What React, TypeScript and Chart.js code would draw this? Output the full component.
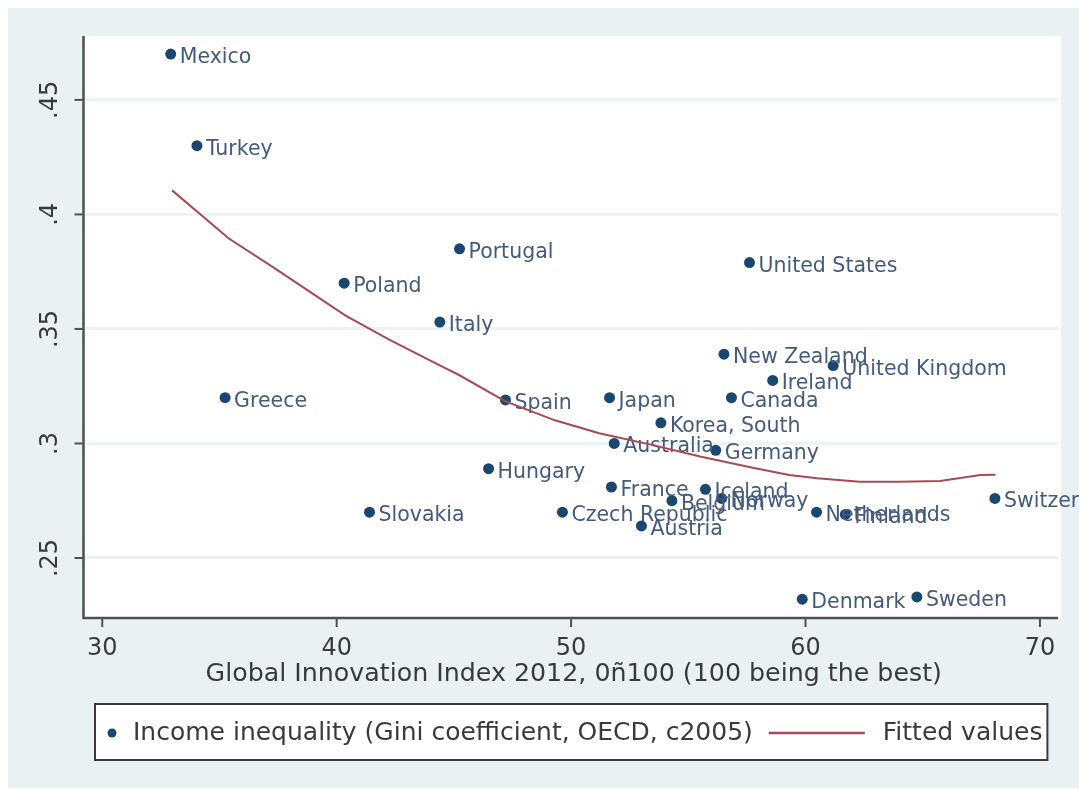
import React, { useEffect, useRef } from "react";
import { Chart, registerables } from "chart.js";

Chart.register(...registerables);

// ---------- data ----------
const countries = [
  "Mexico", "Turkey", "Greece", "Poland", "Portugal", "Italy", "Slovakia", "Hungary",
  "Spain", "Czech Republic", "Japan", "France", "Australia", "Korea, South", "Austria",
  "Belgium", "Iceland", "Norway", "Germany", "New Zealand", "Canada", "United States",
  "Ireland", "United Kingdom", "Netherlands", "Finland", "Denmark", "Sweden", "Switzerland",
];
const innovationIndex = [
  32.92, 34.04, 35.24, 40.32, 45.24, 44.4, 41.4, 46.48,
  47.2, 49.63, 51.64, 51.72, 51.84, 53.83, 53.0,
  54.3, 55.73, 56.42, 56.17, 56.52, 56.84, 57.61,
  58.6, 61.18, 60.47, 61.7, 59.86, 64.75, 68.08,
];
const giniCoefficient = [
  0.47, 0.43, 0.32, 0.37, 0.385, 0.353, 0.27, 0.289,
  0.319, 0.27, 0.32, 0.281, 0.3, 0.309, 0.264,
  0.275, 0.28, 0.276, 0.297, 0.339, 0.32, 0.379,
  0.3275, 0.334, 0.27, 0.269, 0.232, 0.233, 0.276,
];
const fittedX = [32.98, 35.4, 37.25, 40.38, 42.24, 44.44, 45.2, 47.18, 49.31, 51.2, 53.4, 55.5, 57.7, 59.3, 60.5, 62.3, 64.0, 65.74, 67.45, 68.1];
const fittedY = [0.4105, 0.3895, 0.3772, 0.3558, 0.3453, 0.3339, 0.33, 0.3185, 0.3101, 0.3045, 0.2995, 0.2943, 0.2895, 0.2862, 0.2848, 0.2833, 0.2833, 0.2836, 0.2862, 0.2863];

const xTicks = [30, 40, 50, 60, 70];
const xTickLabels = ["30", "40", "50", "60", "70"];
const yTicks = [0.25, 0.3, 0.35, 0.4, 0.45];
const yTickLabels = [".25", ".3", ".35", ".4", ".45"];
const xTitle = "Global Innovation Index 2012, 0ñ100 (100 being the best)";
const legendLabels = ["Income inequality (Gini coefficient, OECD, c2005)", "Fitted values"];

// ---------- style ----------
const W = 1079;
const H = 780;
const PANEL_W = 1072;
const PANEL = "#e9f1f3";
const GRID = "#edf2f3";
const AXIS = "#505050";
const MARKER = "#1a476f";
const MLABEL = "#455b7b";
const FIT = "#a94a53";
const TEXT = "#3a3a3a";
const FONT = "'DejaVu Sans', sans-serif";

const stataPlugin = {
  id: "stataStyle",
  beforeDraw(chart: any) {
    const { ctx, chartArea: a } = chart;
    ctx.save();
    ctx.fillStyle = PANEL;
    ctx.fillRect(0, 0, PANEL_W, H);
    ctx.fillStyle = "#ffffff";
    ctx.fillRect(a.left, a.top, a.right - a.left + 3, a.bottom - a.top);
    ctx.restore();
  },
  afterDatasetDraw(chart: any, args: any) {
    if (args.index !== 0) return;
    const { ctx } = chart;
    const meta = chart.getDatasetMeta(0);
    ctx.save();
    ctx.font = `20.5px ${FONT}`;
    ctx.fillStyle = MLABEL;
    ctx.textAlign = "left";
    ctx.textBaseline = "alphabetic";
    meta.data.forEach((el: any, i: number) => {
      ctx.fillText(countries[i], el.x + 9, el.y + 9);
    });
    ctx.restore();
  },
  afterDraw(chart: any) {
    const { ctx, chartArea: a, scales } = chart;
    const xs = scales.x;
    const ys = scales.y;
    ctx.save();
    // axis lines
    ctx.strokeStyle = AXIS;
    ctx.lineWidth = 2.5;
    ctx.beginPath();
    ctx.moveTo(a.left, a.top);
    ctx.lineTo(a.left, a.bottom);
    ctx.lineTo(a.right, a.bottom);
    ctx.stroke();
    // ticks
    ctx.lineWidth = 2;
    xTicks.forEach((v) => {
      const px = xs.getPixelForValue(v);
      ctx.beginPath();
      ctx.moveTo(px, a.bottom);
      ctx.lineTo(px, a.bottom + 9);
      ctx.stroke();
    });
    yTicks.forEach((v) => {
      const py = ys.getPixelForValue(v);
      ctx.beginPath();
      ctx.moveTo(a.left, py);
      ctx.lineTo(a.left - 9, py);
      ctx.stroke();
    });
    // tick labels
    ctx.fillStyle = TEXT;
    ctx.font = `24px ${FONT}`;
    ctx.textAlign = "center";
    ctx.textBaseline = "middle";
    xTicks.forEach((v, i) => {
      ctx.fillText(xTickLabels[i], xs.getPixelForValue(v), a.bottom + 31);
    });
    yTicks.forEach((v, i) => {
      const py = ys.getPixelForValue(v);
      ctx.save();
      ctx.translate(a.left - 33, py);
      ctx.rotate(-Math.PI / 2);
      ctx.fillText(yTickLabels[i], 0, 0);
      ctx.restore();
    });
    // axis title
    ctx.font = `25.3px ${FONT}`;
    ctx.fillText(xTitle, (a.left + a.right) / 2 + 3, a.bottom + 56);

    // legend
    ctx.font = `25px ${FONT}`;
    const boxL = 87;
    const boxT = 696;
    const boxB = 752;
    const cy = (boxT + boxB) / 2 + 1;
    const t1x = 125;
    const w1 = ctx.measureText(legendLabels[0]).width;
    const lineL = t1x + w1 + 16;
    const lineR = lineL + 96;
    const t2x = lineR + 18;
    const w2 = ctx.measureText(legendLabels[1]).width;
    const boxR = Math.max(t2x + w2 + 5, 1038);
    ctx.fillStyle = "#ffffff";
    ctx.fillRect(boxL, boxT, boxR - boxL, boxB - boxT);
    ctx.strokeStyle = "#3a3a3a";
    ctx.lineWidth = 2;
    ctx.strokeRect(boxL, boxT, boxR - boxL, boxB - boxT);
    ctx.fillStyle = MARKER;
    ctx.beginPath();
    ctx.arc(104, cy, 4.5, 0, Math.PI * 2);
    ctx.fill();
    ctx.fillStyle = TEXT;
    ctx.textAlign = "left";
    ctx.textBaseline = "middle";
    ctx.fillText(legendLabels[0], t1x, cy);
    ctx.fillText(legendLabels[1], t2x, cy);
    ctx.strokeStyle = FIT;
    ctx.lineWidth = 2.5;
    ctx.beginPath();
    ctx.moveTo(lineL, cy);
    ctx.lineTo(lineR, cy);
    ctx.stroke();
    ctx.restore();
  },
};

export default function App() {
  const ref = useRef<HTMLCanvasElement>(null);
  useEffect(() => {
    if (!ref.current) return;
    Chart.defaults.font.family = FONT;
    const chart = new Chart(ref.current, {
      type: "scatter",
      data: {
        datasets: [
          {
            label: legendLabels[0],
            data: countries.map((_, i) => ({ x: innovationIndex[i], y: giniCoefficient[i] })),
            pointRadius: 5.5,
            pointBackgroundColor: MARKER,
            pointBorderWidth: 0,
            showLine: false,
            order: 2,
          },
          {
            label: legendLabels[1],
            data: fittedX.map((x, i) => ({ x, y: fittedY[i] })),
            showLine: true,
            pointRadius: 0,
            borderColor: FIT,
            borderWidth: 2,
            tension: 0,
            order: 1,
          },
        ],
      },
      options: {
        animation: false,
        responsive: false,
        devicePixelRatio: 1,
        layout: { padding: { left: 75.5, top: 28, right: W - 1050, bottom: H - 610 } },
        plugins: { legend: { display: false }, tooltip: { enabled: false } },
        scales: {
          x: {
            type: "linear",
            min: 29.2,
            max: 70.77,
            ticks: { display: false },
            grid: { display: false, drawTicks: false },
            border: { display: false },
            afterBuildTicks: (s: any) => {
              s.ticks = xTicks.map((v) => ({ value: v }));
            },
          },
          y: {
            type: "linear",
            min: 0.2238,
            max: 0.4779,
            ticks: { display: false },
            grid: { color: GRID, lineWidth: 3, drawTicks: false },
            border: { display: false },
            afterBuildTicks: (s: any) => {
              s.ticks = yTicks.map((v) => ({ value: v }));
            },
          },
        },
      },
      plugins: [stataPlugin],
    } as any);
    return () => chart.destroy();
  }, []);
  return (
    <div style={{ width: W, height: H, overflow: "hidden" }}>
      <style>{"body{overflow:hidden}"}</style>
      <canvas ref={ref} width={W} height={H} style={{ display: "block", width: W, height: H }} />
    </div>
  );
}
